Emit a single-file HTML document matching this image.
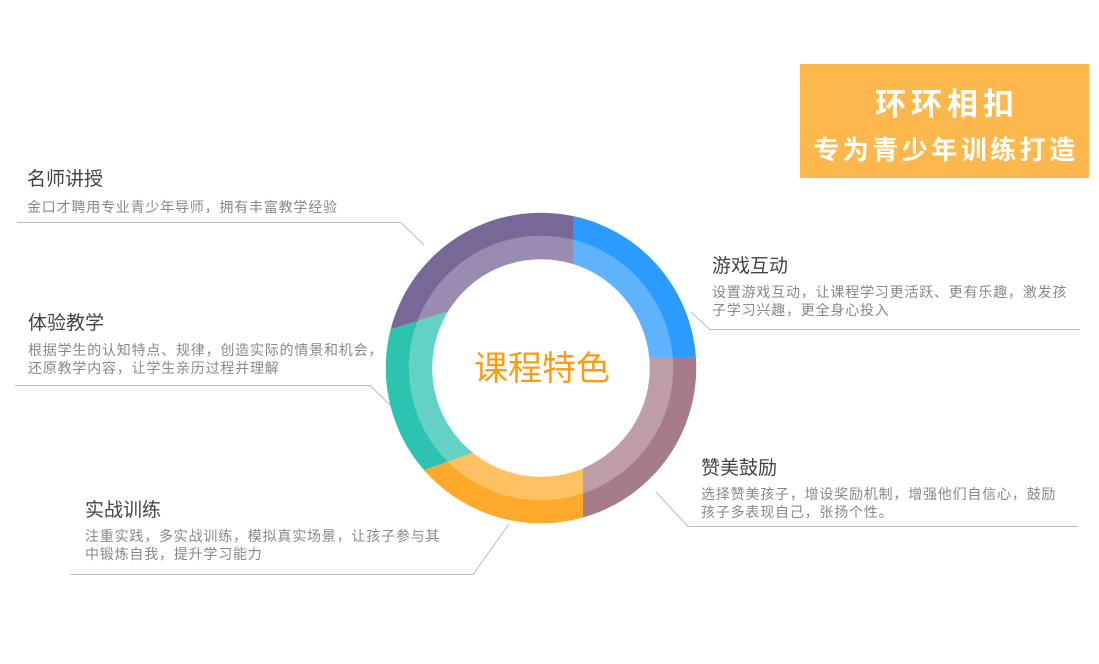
<!DOCTYPE html>
<html><head><meta charset="utf-8"><style>
body{margin:0;width:1099px;height:664px;background:#fff;position:relative;overflow:hidden;font-family:"Liberation Sans","Noto Sans CJK SC",sans-serif}
.t{position:absolute;font-size:19px;color:#444;white-space:nowrap}
.s{position:absolute;font-size:14px;letter-spacing:0.8px;color:#888;line-height:18px;white-space:nowrap}
.box{position:absolute;left:800px;top:64px;width:289px;height:114px;background:#fdb84d;color:#fff;text-align:center;font-weight:bold}
</style></head><body>
<svg width="1099" height="664" style="position:absolute;left:0;top:0">
<defs>
<clipPath id="cb"><polygon points="573,150 760,150 760,357 573,357"/></clipPath>
<clipPath id="cm"><polygon points="583,357 760,357 760,600 583,600"/></clipPath>
<clipPath id="co"><polygon points="300,514 541,428.6 583,428 583,600 300,600"/></clipPath>
<clipPath id="ct"><polygon points="300,358 541,282 541,428.6 300,514"/></clipPath>
<clipPath id="cp"><polygon points="300,150 573,150 573,300 541,282 300,358"/></clipPath>
</defs>
<g fill="none" stroke-width="23.5">
<g clip-path="url(#cb)"><circle cx="541" cy="368" r="143.5" stroke="#2d9bfd"/><circle cx="541" cy="368" r="120.5" stroke="#5fb3fd"/></g>
<g clip-path="url(#cm)"><circle cx="541" cy="368" r="143.5" stroke="#a67c8c"/><circle cx="541" cy="368" r="120.5" stroke="#bc9da8"/></g>
<g clip-path="url(#co)"><circle cx="541" cy="368" r="143.5" stroke="#fea82c"/><circle cx="541" cy="368" r="120.5" stroke="#ffc162"/></g>
<g clip-path="url(#ct)"><circle cx="541" cy="368" r="143.5" stroke="#2cc3b0"/><circle cx="541" cy="368" r="120.5" stroke="#63d2c4"/></g>
<g clip-path="url(#cp)"><circle cx="541" cy="368" r="143.5" stroke="#786898"/><circle cx="541" cy="368" r="120.5" stroke="#9a8bb0"/></g>
</g>
<g stroke="#bbb" stroke-width="1" fill="none">
<polyline points="17,222.5 401,222.5 424,245"/>
<polyline points="15,385.5 370,385.5 390,405"/>
<polyline points="70,574.5 473,574.5 509,524"/>
<polyline points="691,312 710,329.5 1080,329.5"/>
<polyline points="656,492 688,526.5 1078,526.5"/>
</g>
<text x="542" y="380" text-anchor="middle" font-size="34" fill="#fd9c12" font-family="Liberation Sans, Noto Sans CJK SC, sans-serif">课程特色</text>
</svg>
<div class="t" style="left:27px;top:164px">名师讲授</div>
<div class="s" style="left:27px;top:198px">金口才聘用专业青少年导师，拥有丰富教学经验</div>
<div class="t" style="left:28px;top:308px">体验教学</div>
<div class="s" style="left:28px;top:341px">根据学生的认知特点、规律，创造实际的情景和机会，<br>还原教学内容，让学生亲历过程并理解</div>
<div class="t" style="left:85px;top:495px">实战训练</div>
<div class="s" style="left:85px;top:527px">注重实践，多实战训练，模拟真实场景，让孩子参与其<br>中锻炼自我，提升学习能力</div>
<div class="t" style="left:712px;top:251px">游戏互动</div>
<div class="s" style="left:712px;top:283px">设置游戏互动，让课程学习更活跃、更有乐趣，激发孩<br>子学习兴趣，更全身心投入</div>
<div class="t" style="left:701px;top:453px">赞美鼓励</div>
<div class="s" style="left:701px;top:485px">选择赞美孩子，增设奖励机制，增强他们自信心，鼓励<br>孩子多表现自己，张扬个性。</div>
<div class="box"><div style="font-size:31px;margin-top:15px;letter-spacing:5px;padding-left:5px">环环相扣</div><div style="font-size:26px;margin-top:6px;letter-spacing:3.5px;padding-left:3px">专为青少年训练打造</div></div>
</body></html>
